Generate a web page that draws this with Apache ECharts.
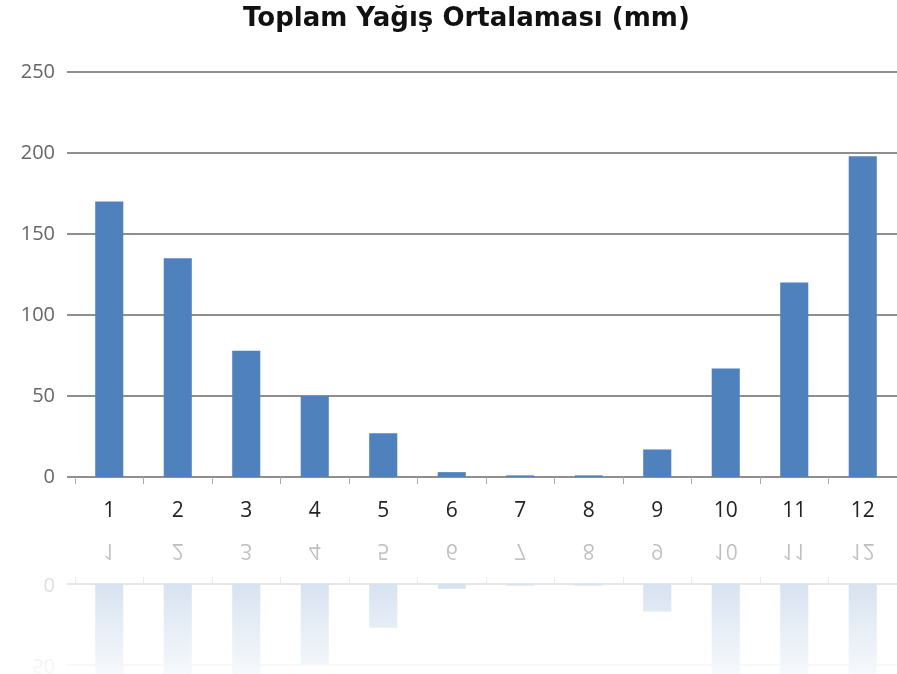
<!DOCTYPE html>
<html>
<head>
<meta charset="utf-8">
<script src="https://cdn.jsdelivr.net/npm/echarts@6/dist/echarts.min.js"></script>
<style>
    html, body { margin: 0; padding: 0; background: #fff; overflow: hidden; }
    #wrap { position: relative; width: 897px; height: 674px; }
    #main-echart { position: absolute; left: 0; top: 0; width: 897px; height: 674px; }
    /* yansıma: aynı grafik, x ekseninin altında ters çevrilmiş ve soluk */
    #reflect-echart {
        position: absolute; left: 0; top: 0; width: 897px; height: 674px;
        transform-origin: 0 530.5px;
        transform: scaleY(-1);
        clip-path: inset(0 0 146px 0);
        -webkit-mask-image: linear-gradient(to bottom, rgba(0,0,0,0) 360px, rgba(0,0,0,0.32) 528px);
        mask-image: linear-gradient(to bottom, rgba(0,0,0,0) 360px, rgba(0,0,0,0.32) 528px);
    }
</style>
</head>
<body>
<div id="wrap">
    <div id="main-echart"></div>
    <div id="reflect-echart"></div>
</div>
<script>
const title = 'Toplam Yağış Ortalaması (mm)';
const months = ['1', '2', '3', '4', '5', '6', '7', '8', '9', '10', '11', '12'];
const rainfall = [170, 135, 78, 50, 27, 3, 1, 1, 17, 67, 120, 198];
const yMin = 0;
const yMax = 250;
const yStep = 50;

function buildOption(showTitle) {
    return {
        animation: false,
        backgroundColor: 'transparent',
        title: {
            show: showTitle,
            text: title,
            left: 238,
            top: 1,
            textStyle: {
                fontFamily: 'DejaVu Sans',
                fontWeight: 'bold',
                fontSize: 26,
                color: '#111'
            }
        },
        grid: [
            // ızgara çizgileri ve y ekseni etiketleri
            { left: 67, top: 72, width: 840, bottom: 197 },
            // çubuklar ve kategori ekseni
            { left: 75, top: 72, width: 830, bottom: 197 }
        ],
        xAxis: [
            { gridIndex: 0, type: 'value', show: false, min: 0, max: 1 },
            {
                gridIndex: 1,
                type: 'category',
                data: months,
                boundaryGap: true,
                axisLine: { show: false },
                axisTick: { show: true, length: 7, lineStyle: { color: '#aaa', width: 1 } },
                axisLabel: {
                    margin: 24,
                    fontFamily: 'Open Sans',
                    fontSize: 21,
                    color: '#222'
                }
            }
        ],
        yAxis: [
            {
                gridIndex: 0,
                type: 'value',
                min: yMin,
                max: yMax,
                interval: yStep,
                axisLine: { show: false },
                axisTick: { show: false },
                axisLabel: {
                    margin: 12,
                    fontFamily: 'Open Sans',
                    fontSize: 20,
                    color: '#666'
                },
                splitLine: { lineStyle: { color: '#8f8f8f', width: 2 } }
            },
            { gridIndex: 1, type: 'value', min: yMin, max: yMax, show: false }
        ],
        series: [
            {
                name: title,
                type: 'bar',
                xAxisIndex: 1,
                yAxisIndex: 1,
                barWidth: '41%',
                itemStyle: { color: '#4f81bd' },
                data: rainfall
            }
        ]
    };
}

var myChart = echarts.init(document.getElementById('main-echart'));
myChart.setOption(buildOption(true));

var reflectChart = echarts.init(document.getElementById('reflect-echart'));
reflectChart.setOption(buildOption(false));
</script>
</body>
</html>
